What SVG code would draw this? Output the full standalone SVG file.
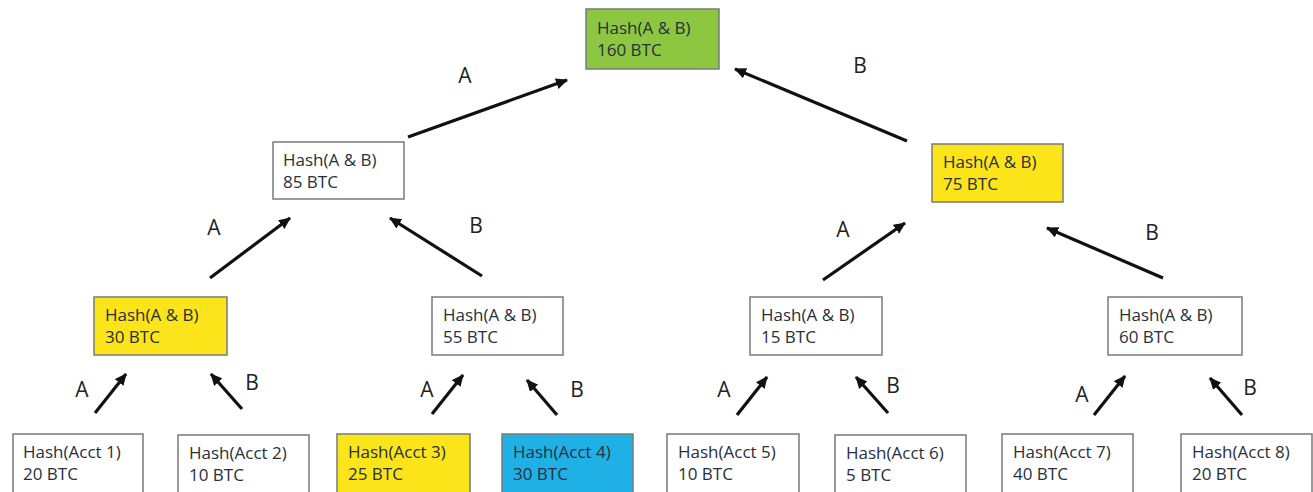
<svg xmlns="http://www.w3.org/2000/svg" width="1313" height="492" viewBox="0 0 1313 492">
<style>
.box{stroke:#7a7a7a;stroke-width:1.5;fill:#ffffff}
.green{fill:#8dc641}
.yellow{fill:#fbe41a}
.blue{fill:#1fb1e6}
.t{font-family:"Open Sans","Liberation Sans",sans-serif;font-size:17px;fill:#27303c}
.lbl{font-family:"Open Sans","Liberation Sans",sans-serif;font-size:21px;fill:#222222;text-anchor:middle}
.arr{stroke:#111111;stroke-width:3.2;fill:none;marker-end:url(#ah)}
</style>
<defs>
<marker id="ah" markerUnits="userSpaceOnUse" markerWidth="14" markerHeight="12" refX="11" refY="5.5" orient="auto">
<path d="M0,0 L12,5.5 L0,11 Z" fill="#111111"/>
</marker>
</defs>
<rect width="1313" height="492" fill="#ffffff"/>

<g id="root">
<rect class="box green" x="586" y="9" width="133" height="60"/>
<text class="t" x="597" y="34">Hash(A &amp; B)</text>
<text class="t" x="597" y="56">160 BTC</text>
</g>

<g id="n85">
<rect class="box" x="273" y="142" width="131" height="57"/>
<text class="t" x="283" y="166">Hash(A &amp; B)</text>
<text class="t" x="283" y="188">85 BTC</text>
</g>
<g id="n75">
<rect class="box yellow" x="932" y="144" width="131" height="58"/>
<text class="t" x="943" y="168">Hash(A &amp; B)</text>
<text class="t" x="943" y="190">75 BTC</text>
</g>

<g id="n30">
<rect class="box yellow" x="94" y="297" width="133" height="58"/>
<text class="t" x="105" y="321">Hash(A &amp; B)</text>
<text class="t" x="105" y="343">30 BTC</text>
</g>
<g id="n55">
<rect class="box" x="432" y="297" width="131" height="58"/>
<text class="t" x="443" y="321">Hash(A &amp; B)</text>
<text class="t" x="443" y="343">55 BTC</text>
</g>
<g id="n15">
<rect class="box" x="750" y="297" width="132" height="58"/>
<text class="t" x="761" y="321">Hash(A &amp; B)</text>
<text class="t" x="761" y="343">15 BTC</text>
</g>
<g id="n60">
<rect class="box" x="1108" y="297" width="134" height="58"/>
<text class="t" x="1119" y="321">Hash(A &amp; B)</text>
<text class="t" x="1119" y="343">60 BTC</text>
</g>

<g id="leaf1">
<rect class="box" x="13" y="434" width="130" height="70"/>
<text class="t" x="23" y="458">Hash(Acct 1)</text>
<text class="t" x="23" y="480">20 BTC</text>
</g>
<g id="leaf2">
<rect class="box" x="178" y="435" width="131" height="70"/>
<text class="t" x="189" y="459">Hash(Acct 2)</text>
<text class="t" x="189" y="481">10 BTC</text>
</g>
<g id="leaf3">
<rect class="box yellow" x="337" y="434" width="133" height="70"/>
<text class="t" x="348" y="458">Hash(Acct 3)</text>
<text class="t" x="348" y="480">25 BTC</text>
</g>
<g id="leaf4">
<rect class="box blue" x="502" y="434" width="131" height="70"/>
<text class="t" x="513" y="458">Hash(Acct 4)</text>
<text class="t" x="513" y="480">30 BTC</text>
</g>
<g id="leaf5">
<rect class="box" x="667" y="434" width="132" height="70"/>
<text class="t" x="678" y="458">Hash(Acct 5)</text>
<text class="t" x="678" y="480">10 BTC</text>
</g>
<g id="leaf6">
<rect class="box" x="835" y="435" width="131" height="70"/>
<text class="t" x="846" y="459">Hash(Acct 6)</text>
<text class="t" x="846" y="481">5 BTC</text>
</g>
<g id="leaf7">
<rect class="box" x="1002" y="434" width="131" height="70"/>
<text class="t" x="1013" y="458">Hash(Acct 7)</text>
<text class="t" x="1013" y="480">40 BTC</text>
</g>
<g id="leaf8">
<rect class="box" x="1181" y="434" width="131" height="70"/>
<text class="t" x="1192" y="458">Hash(Acct 8)</text>
<text class="t" x="1192" y="480">20 BTC</text>
</g>

<g id="connectors">
<line class="arr" x1="408" y1="137" x2="567" y2="80"/>
<line class="arr" x1="907" y1="141" x2="735" y2="69"/>
<line class="arr" x1="210" y1="278" x2="290" y2="218"/>
<line class="arr" x1="482" y1="276" x2="390" y2="218"/>
<line class="arr" x1="823" y1="280" x2="905" y2="223"/>
<line class="arr" x1="1163" y1="278" x2="1047" y2="228"/>
<line class="arr" x1="95" y1="413" x2="126" y2="374"/>
<line class="arr" x1="242" y1="409" x2="211" y2="374"/>
<line class="arr" x1="432" y1="414" x2="463" y2="375"/>
<line class="arr" x1="557" y1="415" x2="527" y2="380"/>
<line class="arr" x1="737" y1="415" x2="767" y2="377"/>
<line class="arr" x1="888" y1="413" x2="856" y2="377"/>
<line class="arr" x1="1094" y1="415" x2="1125" y2="376"/>
<line class="arr" x1="1242" y1="415" x2="1210" y2="378"/>
</g>

<g id="labels">
<text class="lbl" x="465" y="83">A</text>
<text class="lbl" x="860" y="73">B</text>
<text class="lbl" x="214" y="235">A</text>
<text class="lbl" x="476" y="233">B</text>
<text class="lbl" x="843" y="237">A</text>
<text class="lbl" x="1152" y="240">B</text>
<text class="lbl" x="82" y="397">A</text>
<text class="lbl" x="252" y="390">B</text>
<text class="lbl" x="427" y="397">A</text>
<text class="lbl" x="577" y="397">B</text>
<text class="lbl" x="724" y="397">A</text>
<text class="lbl" x="893" y="393">B</text>
<text class="lbl" x="1082" y="402">A</text>
<text class="lbl" x="1250" y="395">B</text>
</g>
</svg>
